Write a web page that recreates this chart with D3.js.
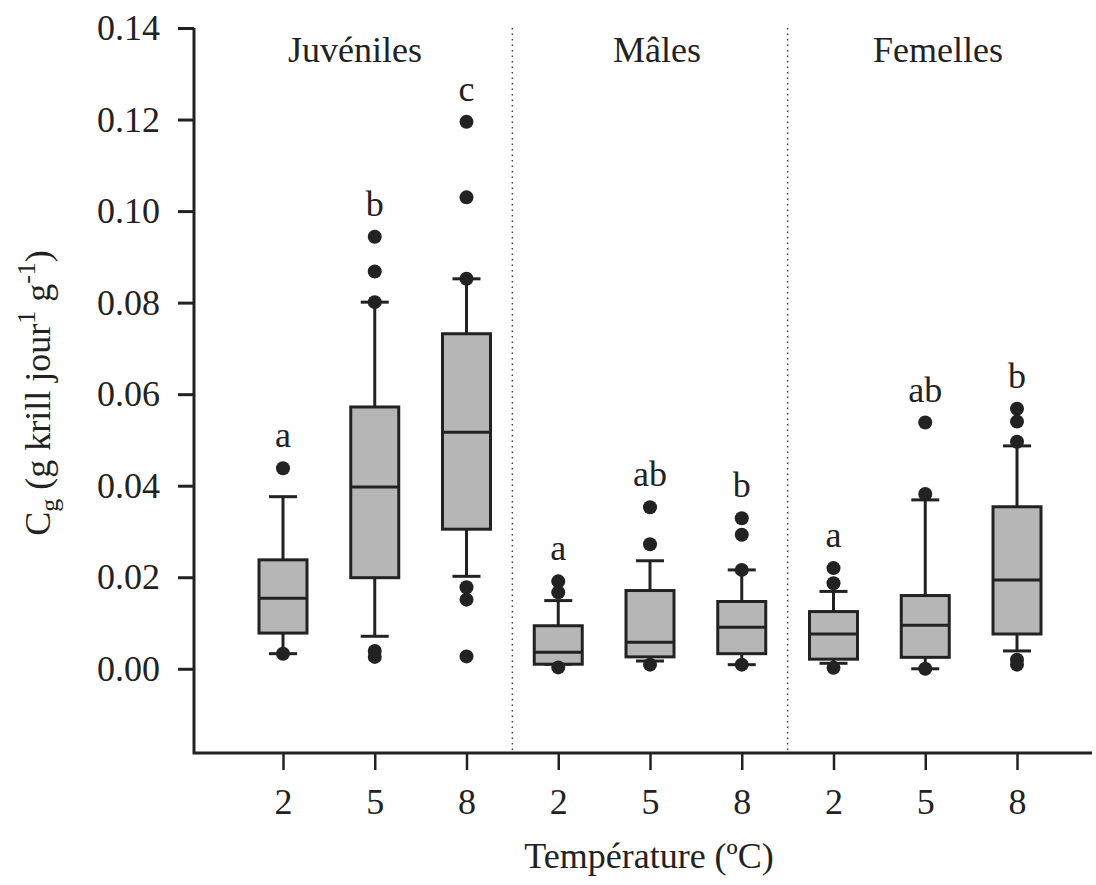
<!DOCTYPE html>
<html>
<head>
<meta charset="utf-8">
<script src="https://cdn.jsdelivr.net/npm/d3@7"></script>
<style>
  body { margin: 0; background: #fff; }
</style>
</head>
<body>
<div id="okvir"></div>
<script>
// podaci (ocitano sa slike)
const grupe = ["Juvéniles", "Mâles", "Femelles"]
const temperature = ["2", "5", "8", "2", "5", "8", "2", "5", "8"]
const q1 = [0.0078, 0.0199, 0.0305, 0.0010, 0.0026, 0.0033, 0.0021, 0.0025, 0.0076]
const medijan = [0.0154, 0.0397, 0.0517, 0.0036, 0.0058, 0.0091, 0.0076, 0.0095, 0.0194]
const q3 = [0.0238, 0.0572, 0.0732, 0.0094, 0.0171, 0.0147, 0.0125, 0.0160, 0.0354]
const brkDolje = [0.0033, 0.0071, 0.0202, 0.0010, 0.0017, 0.0009, 0.0012, 0.0000, 0.0039]
const brkGore = [0.0376, 0.0801, 0.0852, 0.0149, 0.0236, 0.0216, 0.0169, 0.0369, 0.0487]
const tocke = [
  [0.0438, 0.0033],
  [0.0944, 0.0868, 0.0801, 0.0039, 0.0026],
  [0.1195, 0.1030, 0.0852, 0.0178, 0.0151, 0.0027],
  [0.0191, 0.0167, 0.0003],
  [0.0353, 0.0272, 0.0009],
  [0.0329, 0.0293, 0.0216, 0.0009],
  [0.0220, 0.0187, 0.0002],
  [0.0538, 0.0382, 0.0000],
  [0.0568, 0.0540, 0.0496, 0.0020, 0.0009],
]
const slova = ["a", "b", "c", "a", "ab", "b", "a", "ab", "b"]
const yTicks = [0, 0.02, 0.04, 0.06, 0.08, 0.10, 0.12, 0.14]

const sirina = 1096
const visina = 885
const font = "'Liberation Serif', 'DejaVu Serif', serif"
const boja = "#222"

const okvir = d3.select("#okvir")
  .append("svg")
    .attr("width", sirina)
    .attr("height", visina)
    .style("font-family", font)

const ySkala = d3.scaleLinear()
  .domain([-0.0184, 0.14])
  .range([753, 28])

const xSkala = d3.scaleLinear()
  .domain([0, 8])
  .range([283, 1017])

const osX0 = 194
const osX1 = 1092

// y os
const yOs = okvir.append("g")
  .attr("transform", `translate(${osX0},0)`)
  .call(d3.axisLeft(ySkala)
    .tickValues(yTicks)
    .tickFormat(d3.format(".2f"))
    .tickSize(16)
    .tickSizeOuter(0)
    .tickPadding(18))
yOs.attr("font-family", null).attr("font-size", null)
yOs.select(".domain").remove()
yOs.selectAll(".tick line").attr("stroke", boja).attr("stroke-width", 3)
yOs.selectAll(".tick text")
  .attr("fill", boja)
  .style("font-family", font)
  .style("font-size", "36px")

// x os
const xOs = okvir.append("g")
  .attr("transform", `translate(0,${ySkala.range()[0]})`)
  .call(d3.axisBottom(xSkala)
    .tickValues(d3.range(9))
    .tickFormat(i => temperature[i])
    .tickSize(17)
    .tickSizeOuter(0)
    .tickPadding(18))
xOs.attr("font-family", null).attr("font-size", null)
xOs.select(".domain").remove()
xOs.selectAll(".tick line").attr("stroke", boja).attr("stroke-width", 2.5)
xOs.selectAll(".tick text")
  .attr("fill", boja)
  .style("font-family", font)
  .style("font-size", "36px")

// linije osi
okvir.append("path")
  .attr("d", `M${osX0},${ySkala(0.14)}V${ySkala.range()[0]}H${osX1}`)
  .attr("fill", "none")
  .attr("stroke", boja)
  .attr("stroke-width", 3)

// granice grupa
;[2.5, 5.5].forEach(p => {
  okvir.append("line")
    .attr("x1", xSkala(p)).attr("x2", xSkala(p))
    .attr("y1", ySkala(0.14)).attr("y2", ySkala.range()[0])
    .attr("stroke", "#444")
    .attr("stroke-width", 1.5)
    .attr("stroke-dasharray", "1.5,4")
})

// nazivi grupa
const centriGrupa = [355, 657, 938]
grupe.forEach((g, i) => {
  okvir.append("text")
    .attr("x", centriGrupa[i])
    .attr("y", 62)
    .attr("text-anchor", "middle")
    .attr("fill", boja)
    .style("font-family", font)
    .style("font-size", "36px")
    .text(g)
})

// kutije
const sirKutije = 48
const sirKape = 28
const kutije = okvir.append("g")
  .selectAll("g")
  .data(d3.range(9))
  .join("g")

kutije.append("line")
  .attr("x1", i => xSkala(i)).attr("x2", i => xSkala(i))
  .attr("y1", i => ySkala(brkGore[i])).attr("y2", i => ySkala(q3[i]))
  .attr("stroke", boja).attr("stroke-width", 3)
kutije.append("line")
  .attr("x1", i => xSkala(i)).attr("x2", i => xSkala(i))
  .attr("y1", i => ySkala(q1[i])).attr("y2", i => ySkala(brkDolje[i]))
  .attr("stroke", boja).attr("stroke-width", 3)
kutije.append("line")
  .attr("x1", i => xSkala(i) - sirKape / 2).attr("x2", i => xSkala(i) + sirKape / 2)
  .attr("y1", i => ySkala(brkGore[i])).attr("y2", i => ySkala(brkGore[i]))
  .attr("stroke", boja).attr("stroke-width", 3)
kutije.append("line")
  .attr("x1", i => xSkala(i) - sirKape / 2).attr("x2", i => xSkala(i) + sirKape / 2)
  .attr("y1", i => ySkala(brkDolje[i])).attr("y2", i => ySkala(brkDolje[i]))
  .attr("stroke", boja).attr("stroke-width", 3)

kutije.append("rect")
  .attr("x", i => xSkala(i) - sirKutije / 2)
  .attr("y", i => ySkala(q3[i]))
  .attr("width", sirKutije)
  .attr("height", i => ySkala(q1[i]) - ySkala(q3[i]))
  .attr("fill", "#b6b6b6")
  .attr("stroke", boja)
  .attr("stroke-width", 3)

kutije.append("line")
  .attr("x1", i => xSkala(i) - sirKutije / 2).attr("x2", i => xSkala(i) + sirKutije / 2)
  .attr("y1", i => ySkala(medijan[i])).attr("y2", i => ySkala(medijan[i]))
  .attr("stroke", boja).attr("stroke-width", 3)

kutije.selectAll("circle")
  .data(i => tocke[i].map(v => ({ i, v })))
  .join("circle")
    .attr("cx", d => xSkala(d.i))
    .attr("cy", d => ySkala(d.v))
    .attr("r", 7)
    .attr("fill", boja)

kutije.append("text")
  .attr("x", i => xSkala(i))
  .attr("y", i => ySkala(d3.max([brkGore[i], ...tocke[i]])) - 21)
  .attr("text-anchor", "middle")
  .attr("fill", boja)
  .style("font-family", font)
  .style("font-size", "36px")
  .text(i => slova[i])

// naslov x osi
okvir.append("text")
  .attr("x", 649)
  .attr("y", 868)
  .attr("text-anchor", "middle")
  .attr("fill", boja)
  .style("font-family", font)
  .style("font-size", "36px")
  .text("Température (ºC)")

// naslov y osi
const yNaslov = okvir.append("text")
  .attr("transform", "translate(50,393) rotate(-90)")
  .attr("text-anchor", "middle")
  .attr("fill", boja)
  .style("font-family", font)
  .style("font-size", "36px")
yNaslov.append("tspan").text("C")
yNaslov.append("tspan").text("g").attr("dy", 8).style("font-size", "26px")
yNaslov.append("tspan").text(" (g krill jour").attr("dy", -8)
yNaslov.append("tspan").text("1").attr("dy", -15).style("font-size", "26px")
yNaslov.append("tspan").text(" g").attr("dy", 15)
yNaslov.append("tspan").text("-1").attr("dy", -15).style("font-size", "26px")
yNaslov.append("tspan").text(")").attr("dy", 15)
</script>
</body>
</html>
